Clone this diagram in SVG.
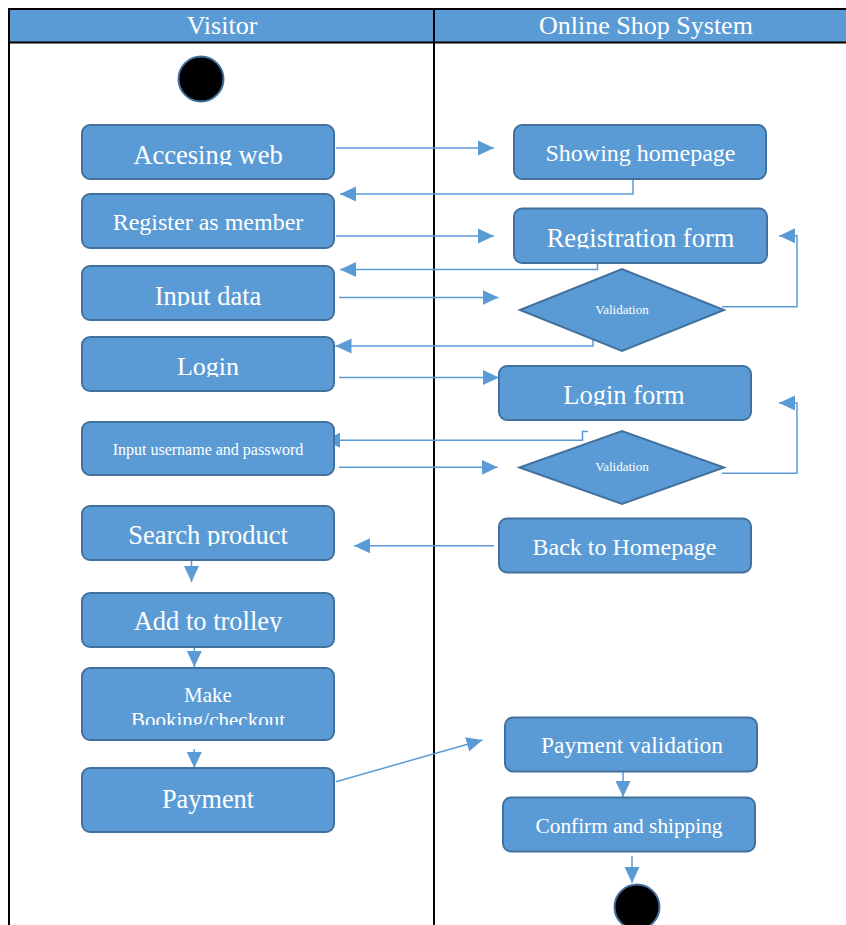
<svg xmlns="http://www.w3.org/2000/svg" width="846" height="925" viewBox="0 0 846 925">
<style>
.node{fill:#5B9BD5;stroke:#41719C;stroke-width:2}
.term{fill:#000;stroke:#41719C;stroke-width:2}
.t{fill:#fff;font-family:"Liberation Serif","Times New Roman",serif;text-anchor:middle}
.hd{fill:#fff;font-family:"Liberation Serif","Times New Roman",serif;text-anchor:middle;font-size:26px}
.c{fill:none;stroke:#5B9BD5;stroke-width:1.5;marker-end:url(#ah)}
.frame{stroke:#000;stroke-width:2;fill:none}
</style>
<defs>
<marker id="ah" markerUnits="userSpaceOnUse" markerWidth="16" markerHeight="16" viewBox="0 0 16 16" refX="16" refY="8" orient="auto">
<path d="M0,0.5 L16,8 L0,15.5 Z" fill="#5B9BD5"/>
</marker>
<clipPath id="c1" clipPathUnits="userSpaceOnUse"><rect x="80" y="120" width="260" height="45.5"/></clipPath>
<clipPath id="c3" clipPathUnits="userSpaceOnUse"><rect x="80" y="260" width="260" height="46"/></clipPath>
<clipPath id="c4" clipPathUnits="userSpaceOnUse"><rect x="80" y="330" width="260" height="47"/></clipPath>
<clipPath id="c6" clipPathUnits="userSpaceOnUse"><rect x="80" y="500" width="260" height="46"/></clipPath>
<clipPath id="c7" clipPathUnits="userSpaceOnUse"><rect x="80" y="590" width="260" height="42"/></clipPath>
<clipPath id="c8" clipPathUnits="userSpaceOnUse"><rect x="80" y="660" width="260" height="65"/></clipPath>
<clipPath id="c11" clipPathUnits="userSpaceOnUse"><rect x="510" y="205" width="260" height="43.5"/></clipPath>
<clipPath id="c13" clipPathUnits="userSpaceOnUse"><rect x="495" y="360" width="260" height="45.5"/></clipPath>
</defs>
<g id="lanes">
<rect x="9" y="9" width="837" height="33" fill="#5B9BD5"/>
<line class="frame" x1="9" y1="9" x2="846" y2="9"/>
<line class="frame" x1="9" y1="42.5" x2="846" y2="42.5"/>
<line class="frame" x1="9" y1="8" x2="9" y2="925"/>
<line class="frame" x1="434" y1="9" x2="434" y2="925"/>
<text class="hd" x="222" y="34">Visitor</text>
<text class="hd" x="646" y="34">Online Shop System</text>
</g>
<g id="connectors">
<path class="c" d="M336,148 H494"/>
<path class="c" d="M633,179 V194 H340"/>
<path class="c" d="M336,236 H494"/>
<path class="c" d="M597.5,263 V269.5 H340"/>
<path class="c" d="M339,297.5 H498.5"/>
<path class="c" d="M722,306.7 H797 V235.7 H779"/>
<path class="c" d="M593,338 V346 H335.5"/>
<path class="c" d="M339,377.5 H499"/>
<path class="c" d="M588,431.5 H582.5 V440.3 H324"/>
<path class="c" d="M339,467.3 H497.7"/>
<path class="c" d="M722,473.3 H797 V403 H779"/>
<path class="c" d="M494,545.7 H354"/>
<path class="c" d="M191.5,560 V582"/>
<path class="c" d="M194.3,647 V667"/>
<path class="c" d="M194.3,749 V768"/>
<path class="c" d="M336,781.7 L482.5,740"/>
<path class="c" d="M623,771 V797"/>
<path class="c" d="M632,856 V883"/>
</g>
<g id="start"><circle class="term" cx="201" cy="79" r="22.5"/></g>
<g id="n-accesing"><rect class="node" x="82" y="125" width="252" height="54" rx="8"/><text class="t" x="208" y="164" font-size="26.5" clip-path="url(#c1)">Accesing web</text></g>
<g id="n-register"><rect class="node" x="82" y="194" width="252" height="54" rx="8"/><text class="t" x="208" y="230" font-size="24">Register as member</text></g>
<g id="n-inputdata"><rect class="node" x="82" y="266" width="252" height="54" rx="8"/><text class="t" x="208" y="304.5" font-size="26.5" clip-path="url(#c3)">Input data</text></g>
<g id="n-login"><rect class="node" x="82" y="337" width="252" height="54" rx="8"/><text class="t" x="208" y="375" font-size="26" clip-path="url(#c4)">Login</text></g>
<g id="n-inputuser"><rect class="node" x="82" y="422" width="252" height="53" rx="8"/><text class="t" x="208" y="454.5" font-size="16">Input username and password</text></g>
<g id="n-search"><rect class="node" x="82" y="506" width="252" height="54" rx="8"/><text class="t" x="208" y="544.3" font-size="26.5" clip-path="url(#c6)">Search product</text></g>
<g id="n-trolley"><rect class="node" x="82" y="593" width="252" height="54" rx="8"/><text class="t" x="208" y="630" font-size="26.5" clip-path="url(#c7)">Add to trolley</text></g>
<g id="n-booking"><rect class="node" x="82" y="668" width="252" height="72" rx="8"/><text class="t" x="208" y="701.7" font-size="21" clip-path="url(#c8)">Make</text><text class="t" x="208" y="727" font-size="21" clip-path="url(#c8)">Booking/checkout</text></g>
<g id="n-payment"><rect class="node" x="82" y="768" width="252" height="64" rx="8"/><text class="t" x="208" y="808" font-size="26.3">Payment</text></g>
<g id="n-homepage"><rect class="node" x="514" y="125" width="252" height="54" rx="8"/><text class="t" x="640.5" y="161" font-size="24">Showing homepage</text></g>
<g id="n-regform"><rect class="node" x="514" y="208.5" width="253" height="54.5" rx="8"/><text class="t" x="640.5" y="246.7" font-size="26.5" clip-path="url(#c11)">Registration form</text></g>
<g id="n-valid1"><polygon class="node" points="520,310 622,269 724,310 622,351"/><text class="t" x="622" y="314" font-size="13">Validation</text></g>
<g id="n-loginform"><rect class="node" x="499" y="366" width="252" height="54" rx="8"/><text class="t" x="624" y="404" font-size="26.5" clip-path="url(#c13)">Login form</text></g>
<g id="n-valid2"><polygon class="node" points="519.5,467.5 622,431 724,467.5 622,504"/><text class="t" x="622" y="471" font-size="13">Validation</text></g>
<g id="n-back"><rect class="node" x="499" y="518.5" width="252" height="54" rx="8"/><text class="t" x="624.5" y="555" font-size="24">Back to Homepage</text></g>
<g id="n-payval"><rect class="node" x="505" y="717.5" width="252" height="54" rx="8"/><text class="t" x="632" y="753" font-size="23.5">Payment validation</text></g>
<g id="n-confirm"><rect class="node" x="503" y="797.5" width="252" height="54" rx="8"/><text class="t" x="629" y="833" font-size="21.3">Confirm and shipping</text></g>
<g id="end"><circle class="term" cx="637" cy="907" r="22.5"/></g>
</svg>
